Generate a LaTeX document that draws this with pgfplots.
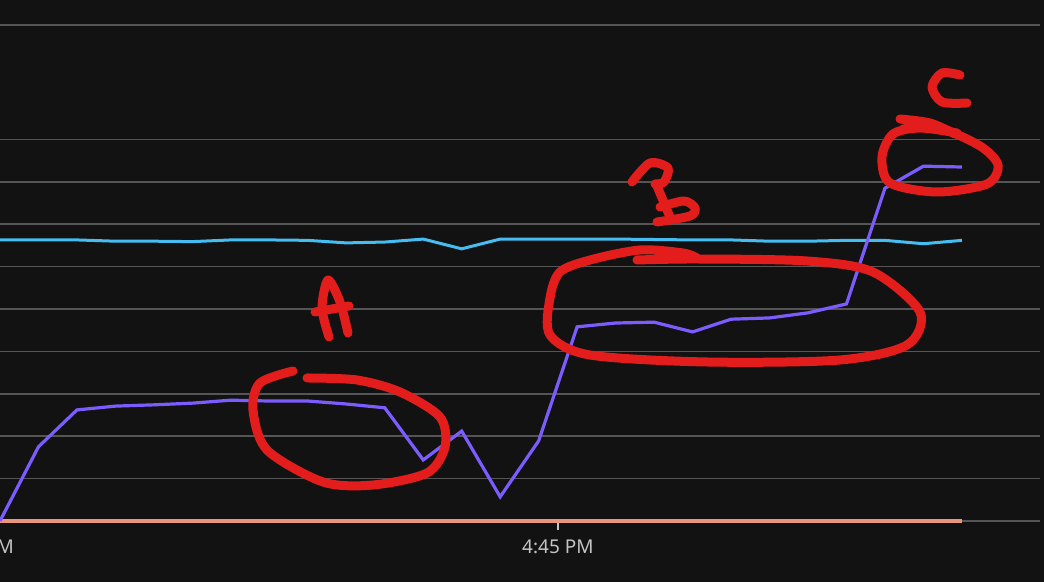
\documentclass[border=0pt]{standalone}
\usepackage{pgfplots}
\pgfplotsset{compat=1.18}
\usepackage{fontspec}
\setmainfont{Noto Sans}
\definecolor{bgc}{HTML}{121212}
\definecolor{gridc}{HTML}{555555}
\definecolor{purp}{HTML}{7B5CFF}
\definecolor{skyb}{HTML}{45BDF0}
\definecolor{salmon}{HTML}{E9967A}
\definecolor{pen}{HTML}{E31C1C}
\definecolor{labc}{HTML}{C4C4C4}

\begin{document}
\begin{tikzpicture}
\fill[bgc] (0,-30.5pt) rectangle (522pt,260.5pt);
\begin{axis}[at={(0,0)}, anchor=south west,
    scale only axis, width=520pt, height=248pt,
    xmin=0, xmax=27.03, ymin=0, ymax=11.7,
    axis line style={draw=none},
    ytick={0,1,2,3,4,5,6,7,8,9,11.7}, yticklabels={},
    y tick style={draw=none},
    ymajorgrids, grid style={gridc, line width=0.75pt},
    xtick={14.5}, xticklabels={}, xtick pos=bottom,
    x tick style={labc, line width=0.8pt},
    tick align=outside, major tick length=4.5pt,
    clip=false]

% values per minute
\addplot[skyb, line width=1.5pt] coordinates {
 (0,6.63) (1,6.63) (2,6.63) (3,6.60) (4,6.60) (5,6.59) (6,6.63) (7,6.63)
 (8,6.62) (9,6.56) (10,6.58) (11,6.65) (12,6.42) (13,6.65) (14,6.65)
 (15,6.65) (16,6.65) (17,6.64) (18,6.63) (19,6.63) (20,6.60) (21,6.60)
 (22,6.62) (23,6.62) (24,6.54) (25,6.62)
};
\addplot[salmon, line width=2.4pt] coordinates {
 (0,0) (5,0) (10,0) (15,0) (20,0) (25,0)
};
\addplot[purp, line width=1.6pt] coordinates {
 (0,0) (1,1.75) (2,2.62) (3,2.71) (4,2.74) (5,2.78) (6,2.85) (7,2.83)
 (8,2.83) (9,2.76) (10,2.67) (11,1.44) (12,2.12) (13,0.57) (14,1.89)
 (15,4.58) (16,4.67) (17,4.69) (18,4.46) (19,4.76) (20,4.79) (21,4.91)
 (22,5.12) (23,7.85) (24,8.37) (25,8.35)
};

\node[anchor=base, text=labc, font=\fontsize{9.5}{11}\selectfont, yshift=-16.5pt] at (axis cs:14.5,0) {4:45 PM};
\node[anchor=base, text=labc, font=\fontsize{9.5}{11}\selectfont, yshift=-16.5pt] at (axis cs:-0.57,0) {4:30 PM};
\end{axis}

% hand-drawn marks, in pixel units of the screenshot
\begin{scope}[x=0.5pt, y=-0.5pt, yshift=260.5pt,
    pen, line width=4.5pt, line cap=round, line join=round]
 % A
 \draw plot[smooth] coordinates {(329,337) (322,308) (328,280) (340,302) (348,333)};
 \draw (315,312) -- (349,306);
 \draw plot[smooth] coordinates {(293,371) (260,383) (253,410) (267,450) (323,482)
   (373,485) (427,473) (445,447) (440,417) (400,392) (357,380) (307,378)};
 % B
 \draw plot[smooth] coordinates {(632,182) (650,163) (668,168) (664,182) (655,184)};
 \draw (657,186) -- (670,217);
 \draw plot[smooth] coordinates {(660,207) (684,201) (695,208) (690,216) (657,222)};
 \draw plot[smooth] coordinates {(637,260) (697,259) (807,261) (873,272) (920,312)
   (907,345) (840,360) (707,362) (590,355) (550,335) (550,298) (560,272)
   (590,260) (640,250) (683,253) (697,258)};
 % C
 \draw plot[smooth] coordinates {(960,75) (942,73) (932,87) (942,102) (967,103)};
 \draw plot[smooth] coordinates {(900,119) (930,123) (955,134)};
 \draw plot[smooth] coordinates {(903,129) (937,127) (980,146) (998,165) (987,184)
   (937,192) (890,183) (882,157) (893,134) (920,128) (957,133)};
\end{scope}

\pgfresetboundingbox
\useasboundingbox (0,-30.5pt) rectangle (522pt,260.5pt);
\end{tikzpicture}
\end{document}
